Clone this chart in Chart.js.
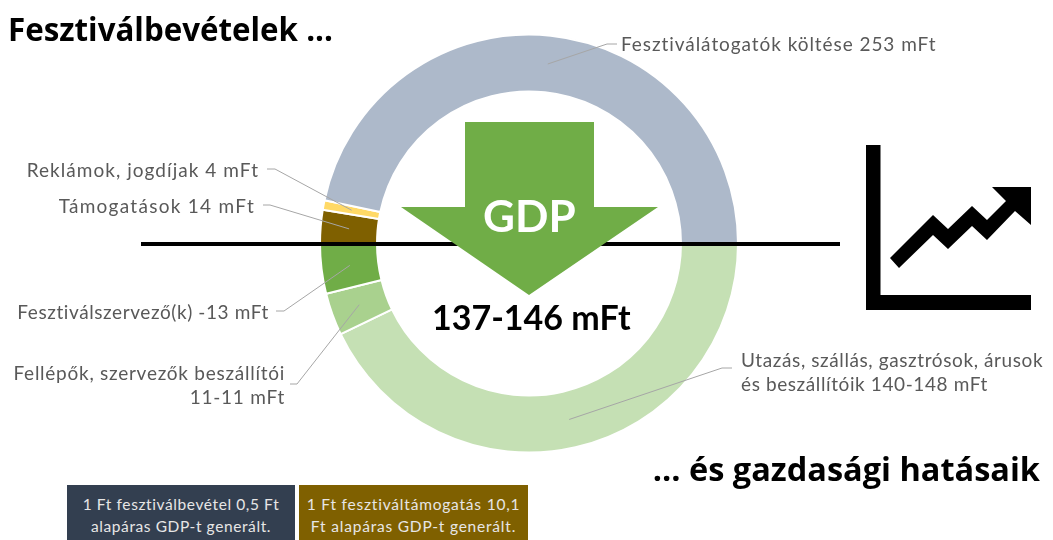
<!DOCTYPE html>
<html lang="hu">
<head>
<meta charset="utf-8">
<title>Fesztiválbevételek</title>
<script src="https://cdn.jsdelivr.net/npm/chart.js@4"></script>
<style>
    html, body { margin: 0; padding: 0; background: #fff; }
    #keret { position: relative; width: 1053px; height: 540px; overflow: hidden; font-family: Lato, sans-serif; }
    #grafikon { position: absolute; left: 0; top: 0; }
    .felirat { position: absolute; color: #595959; font-size: 19px; line-height: 24px; white-space: nowrap; }
    .cim { position: absolute; color: #000; font-family: "Open Sans", sans-serif; font-weight: 700; font-size: 31.3px; line-height: 36px; white-space: nowrap; }
    .doboz { position: absolute; top: 485px; height: 55px; width: 229px; color: #e7e6e6; font-size: 15.5px; line-height: 22px; text-align: center; padding-top: 8px; box-sizing: border-box; white-space: nowrap; }
</style>
</head>
<body>
<div id="keret">
    <canvas id="grafikon" width="1053" height="540"></canvas>

    <div class="cim" style="left:8px; top:11px;">Fesztiválbevételek ...</div>
    <div class="cim" style="right:13px; top:451px; font-size:32.5px;">... és gazdasági hatásaik</div>

    <div class="felirat" style="left:621px; top:32px; letter-spacing:0.94px;">Fesztiválátogatók költése 253 mFt</div>
    <div class="felirat" style="right:794px; top:158px; letter-spacing:1.04px;">Reklámok, jogdíjak 4 mFt</div>
    <div class="felirat" style="right:798px; top:194px; letter-spacing:1.28px;">Támogatások 14 mFt</div>
    <div class="felirat" style="right:784px; top:300px; letter-spacing:0.59px;">Fesztiválszervező(k) -13 mFt</div>
    <div class="felirat" style="right:768px; top:361px; text-align:right; letter-spacing:0.74px;">Fellépők, szervezők beszállítói<br>11-11 mFt</div>
    <div class="felirat" style="left:741px; top:348px; letter-spacing:0.6px;">Utazás, szállás, gasztrósok, árusok<br>és beszállítóik 140-148 mFt</div>

    <div style="position:absolute; left:483px; top:188px; color:#fff; font-weight:700; font-size:44px; line-height:54px;">GDP</div>
    <div style="position:absolute; left:432px; top:297px; color:#000; font-weight:700; font-size:34px; line-height:40px; white-space:nowrap;">137-146 mFt</div>

    <div class="doboz" style="left:67px; width:228px; background:#333f50; letter-spacing:0.6px;">1 Ft fesztiválbevétel 0,5 Ft<br>alapáras GDP-t generált.</div>
    <div class="doboz" style="left:299px; background:#7f6000; letter-spacing:0.8px;">1 Ft fesztiváltámogatás 10,1<br>Ft alapáras GDP-t generált.</div>
</div>

<script>
// A felső félkör a bevételek, az alsó a gazdasági hatások (mFt)
const hatasCimkek = ['Utazás, szállás, gasztrósok, árusok és beszállítóik', 'Fellépők, szervezők beszállítói', 'Fesztiválszervező(k)'];
const hatasErtekek = [144, 11, 13];
const hatasSzinek = ['#c5e0b4', '#a9d18e', '#70ad47'];

const bevetelCimkek = ['Támogatások', 'Reklámok, jogdíjak', 'Fesztiválátogatók költése'];
const bevetelErtekek = [14, 4, 253];
const bevetelSzinek = ['#7f6000', '#ffd966', '#adb9ca'];

// Mindkét csoport pontosan egy félkört tölt ki, ezért külön arányosítjuk
function felkorre(ertekek) {
    const osszeg = ertekek.reduce((a, b) => a + b, 0);
    return ertekek.map(v => v / osszeg * 180);
}

// Vezetővonalak: a címke melletti két pont után a körszelet közepére futnak
const vezetok = [
    { index: 5, pontok: [[617, 44], [607, 44]] },
    { index: 4, pontok: [[267, 169], [275, 169]] },
    { index: 3, pontok: [[263, 205], [270, 205]] },
    { index: 2, pontok: [[276, 311], [284, 311]] },
    { index: 1, pontok: [[290, 384], [297, 384]] },
    { index: 0, pontok: [[732, 368], [722, 368]] }
];

function sokszog(ctx, pontok, szin) {
    ctx.fillStyle = szin;
    ctx.beginPath();
    pontok.forEach((p, i) => i === 0 ? ctx.moveTo(p[0], p[1]) : ctx.lineTo(p[0], p[1]));
    ctx.closePath();
    ctx.fill();
}

const rajzok = {
    id: 'rajzok',
    afterDraw(chart) {
        const ctx = chart.ctx;
        const ivek = chart.getDatasetMeta(0).data;
        ctx.save();

        // vízszintes vonal
        ctx.fillStyle = '#000';
        ctx.fillRect(141, 242, 699, 4);

        // vezetővonalak
        ctx.strokeStyle = '#a6a6a6';
        ctx.lineWidth = 1;
        vezetok.forEach(v => {
            const kozep = ivek[v.index].getCenterPoint();
            ctx.beginPath();
            ctx.moveTo(v.pontok[0][0], v.pontok[0][1]);
            ctx.lineTo(v.pontok[1][0], v.pontok[1][1]);
            ctx.lineTo(kozep.x, kozep.y);
            ctx.stroke();
        });

        // GDP nyíl
        sokszog(ctx, [[465, 122], [594, 122], [594, 207], [658, 207], [529, 295], [401, 207], [465, 207]], '#70ad47');

        // grafikon ikon
        ctx.fillStyle = '#000';
        ctx.fillRect(866, 145, 14.5, 165);
        ctx.fillRect(866, 295, 165, 15);
        sokszog(ctx, [[890, 258], [933, 215], [948, 229], [972, 206], [987, 220], [1006, 201], [992, 187], [1031, 187], [1031, 225], [1015, 211], [987, 240], [972, 226], [948, 249], [933, 235], [899, 268]], '#000');

        ctx.restore();
    }
};

new Chart(document.getElementById('grafikon').getContext('2d'), {
    type: 'doughnut',
    data: {
        labels: hatasCimkek.concat(bevetelCimkek),
        datasets: [{
            data: felkorre(hatasErtekek).concat(felkorre(bevetelErtekek)),
            backgroundColor: hatasSzinek.concat(bevetelSzinek),
            borderColor: '#ffffff',
            borderWidth: 2
        }]
    },
    options: {
        responsive: false,
        animation: false,
        rotation: 90,
        cutout: 152,
        layout: { padding: { left: 319, right: 314, top: 33.5, bottom: 86.5 } },
        plugins: { legend: { display: false }, tooltip: { enabled: false } }
    },
    plugins: [rajzok]
});
</script>
</body>
</html>
